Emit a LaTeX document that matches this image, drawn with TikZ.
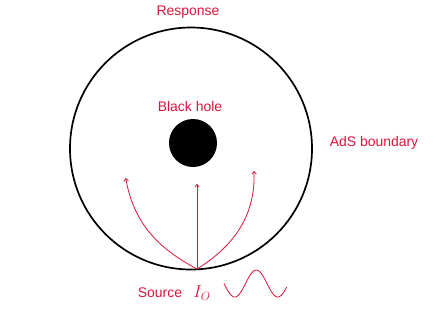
\documentclass[tikz,border=0pt]{standalone}
\usepackage{fontspec}
\setmainfont{Liberation Sans}
\usepackage{tikz}
\usetikzlibrary{arrows.meta, positioning}
\definecolor{adsred}{RGB}{220,20,60}
\tikzset{
  lbl/.style={font=\fontsize{14}{16}\selectfont,text=adsred,inner sep=1pt},
  boundary/.style={circle,draw=black,line width=1.7pt,minimum size=242bp,inner sep=0pt},
  hole/.style={circle,fill=black,minimum size=48bp,inner sep=0pt},
  ray/.style={-{To[length=3.5pt,width=5pt]},line width=0.8pt,adsred},
  wave/.style={line width=0.8pt,adsred},
}
\begin{document}
\begin{tikzpicture}[x=1bp,y=1bp]
  \useasboundingbox (0,0) rectangle (441,314);
  \node[boundary] (ads) at (191,165.5) {};
  \node[hole] (bh) at (193,171) {};
  \node[lbl] (resp) at (188,302) {Response};
  \node[lbl] (bhlbl) at (190,207) {Black hole};
  \node[lbl] (adslbl) at (374,171) {AdS boundary};
  \node[lbl] (source) at (160,21) {Source};
  \node[lbl,right=9bp of source,font=\fontsize{17}{18}\selectfont] (io) {$I_O$};
  \coordinate (src) at (197,45);
  \coordinate (tipL) at (125.7,136);
  \coordinate (tipM) at (197,130);
  \coordinate (tipR) at (254,143);
  \draw[ray] (src) to[out=152,in=-80] (tipL);
  \draw[ray] (src) -- (tipM);
  \draw[ray] (src) to[out=32,in=-88] (tipR);
  % source signal
  \draw[wave] plot[domain=0:525,samples=70,smooth] ({224+\x/360*43},{30.5-13.5*sin(\x)});
\end{tikzpicture}
\end{document}
